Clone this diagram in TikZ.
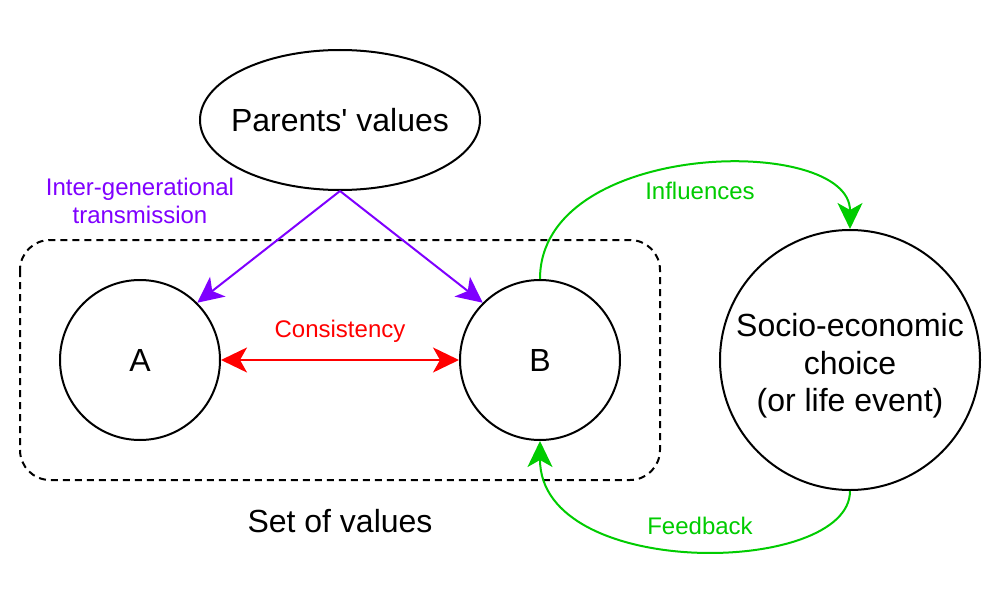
\documentclass[tikz,border=0pt]{standalone}
\usepackage{fontspec}
\setmainfont{Liberation Sans}
\usetikzlibrary{shapes.geometric,arrows.meta}
\definecolor{vpurple}{HTML}{7F00FF}
\definecolor{vred}{HTML}{FF0000}
\definecolor{vgreen}{HTML}{00CC00}
\tikzset{
  bigtext/.style={font=\fontsize{32}{37.5}\selectfont},
  lbltext/.style={font=\fontsize{24}{28}\selectfont},
  shapeline/.style={draw=black, line width=2pt},
  roundnode/.style={shapeline, circle, inner sep=0pt, bigtext, align=center},
  conn/.style={line width=2pt, -{Stealth[length=26pt,width=25pt,inset=7pt]}},
  dconn/.style={line width=2pt, {Stealth[length=26pt,width=25pt,inset=7pt]}-{Stealth[length=26pt,width=25pt,inset=7pt]}},
}
\begin{document}
\begin{tikzpicture}[x=1pt,y=-1pt]
\useasboundingbox (0,0) rectangle (1002,602);
\fill[white] (0,0) rectangle (1002,602);
% set of values box
\draw[line width=2pt, dash pattern=on 7pt off 5pt, rounded corners=30pt] (20,240) rectangle (660,480);
\node[bigtext] (setlbl) at (340,521) {Set of values};
% nodes
\node[shapeline, ellipse, minimum width=280pt, minimum height=140pt, inner xsep=-11pt, inner ysep=0pt, bigtext] (parents) at (340,120) {Parents\textquotesingle{} values};
\node[roundnode, minimum size=160pt] (A) at (140,360) {A};
\node[roundnode, minimum size=160pt] (B) at (540,360) {B};
\node[roundnode, minimum size=260pt] (socio) at (850,360) {};
\node[bigtext, align=center] (sociotext) at (850,366) {Socio-economic\\choice\\(or life event)};
% purple transmission
\draw[conn, draw=vpurple, fill=vpurple] (parents.south) -- (A.45);
\draw[conn, draw=vpurple, fill=vpurple] (parents.south) -- (B.135);
\node[lbltext, text=vpurple, align=center] (trans) at (140,201) {Inter-generational\\transmission};
% consistency
\draw[dconn, draw=vred, fill=vred] (A.east) -- (B.west);
\node[lbltext, text=vred] (cons) at (340,331) {Consistency};
% influences
\draw[conn, draw=vgreen] (B.north) .. controls +(0,-140) and +(0,-95) .. (socio.north);
\node[lbltext, text=vgreen] (infl) at (700,191) {Influences};
% feedback
\draw[conn, draw=vgreen] (socio.south) .. controls +(0,85) and +(0,140) .. (B.south);
\node[lbltext, text=vgreen] (feed) at (700,526) {Feedback};
\end{tikzpicture}
\end{document}
